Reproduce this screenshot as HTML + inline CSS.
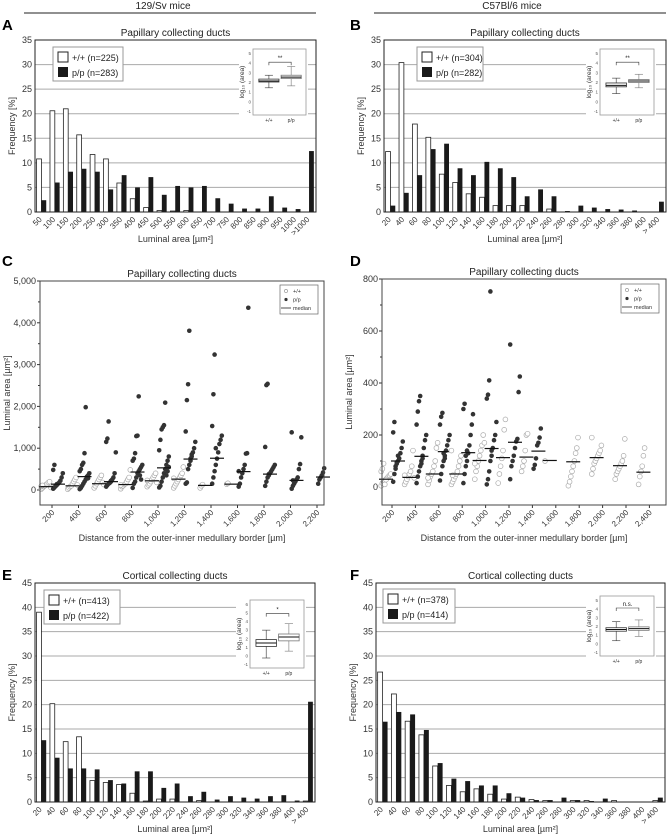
<!DOCTYPE html>
<html><head><meta charset="utf-8"><style>
html,body{margin:0;padding:0;background:#fff}
svg{display:block;font-family:"Liberation Sans",Arial,sans-serif}
</style></head><body>
<svg id="fig" width="668" height="834" viewBox="0 0 668 834" xmlns="http://www.w3.org/2000/svg">
<g>
<text x="163" y="9" font-size="10" text-anchor="middle" fill="#222">129/Sv mice</text>
<line x1="24" y1="13" x2="316" y2="13" stroke="#222" stroke-width="1"/></g>
<g>
<text x="512" y="9" font-size="10" text-anchor="middle" fill="#222">C57Bl/6 mice</text>
<line x1="374" y1="13" x2="666" y2="13" stroke="#222" stroke-width="1"/></g>
<text x="2" y="30" font-size="15" font-weight="bold">A</text>
<text x="350" y="30" font-size="15" font-weight="bold">B</text>
<text x="2" y="266" font-size="15" font-weight="bold">C</text>
<text x="350" y="266" font-size="15" font-weight="bold">D</text>
<text x="2" y="580" font-size="15" font-weight="bold">E</text>
<text x="350" y="580" font-size="15" font-weight="bold">F</text>
</svg>
<script>
// ---------- data ----------
const catsA = ["50","100","150","200","250","300","350","400","450","500","550","600","650","700","750","800","850","900","950","1000",">1000"];
const wtA = [10.8,20.6,21,15.7,11.7,10.8,5.9,2.7,0.9,0.3,0.2,0.3,0,0,0,0,0,0,0,0,0];
const ppA = [2.4,6,8.2,8.8,8.2,4.6,7.5,5,7.1,3.5,5.3,5,5.3,2.8,1.7,0.7,0.7,3.2,0.9,0.6,12.4];
const cats20 = ["20","40","60","80","100","120","140","160","180","200","220","240","260","280","300","320","340","360","380","400","> 400"];
const wtB = [12.3,30.4,17.9,15.2,7.7,6,3.7,3,1.3,1.3,1.3,0,0.6,0,0,0,0,0,0,0,0];
const ppB = [1.3,3.9,7.5,12.8,13.9,8.9,7.5,10.2,8.9,7.1,3.2,4.6,3.2,0.2,1.3,0.9,0.6,0.5,0.3,0,2.1];
const wtE = [39,20.2,12.4,13.4,4.4,4,3.6,1.8,0.2,0.6,0.6,0,0.3,0,0,0,0,0,0,0,0.2];
const ppE = [12.7,9.1,6.9,6.9,6.7,4.5,3.8,6.3,6.3,2.9,3.8,1.2,2.1,0.5,1.2,0.9,0.7,1.2,1.4,0.3,20.6];
const wtF = [26.7,22.2,16.6,13.8,7.4,3.4,2.1,2.7,1.6,0.6,1.0,0.5,0.3,0,0.3,0.3,0,0.3,0,0,0.3];
const ppF = [16.5,18.5,18.0,14.8,8.0,4.8,4.3,3.4,3.4,1.8,0.9,0.4,0.4,0.9,0.4,0.2,0.7,0,0,0.1,0.9];
// inset boxplots: [whiskerLow, q1, median, q3, whiskerHigh]
const boxA = [[1.4,2.0,2.1,2.3,2.7],[1.6,2.35,2.5,2.7,3.6]];
const boxB = [[0.8,1.5,1.65,1.9,2.4],[1.4,1.95,2.1,2.25,2.8]];
const boxE = [[-0.3,1.05,1.45,1.85,2.95],[0.5,1.7,2.15,2.5,3.7]];
const boxF = [[0.3,1.4,1.6,1.8,2.5],[0.8,1.5,1.7,1.9,2.7]];
// scatter C
const catsC = ["200","400","600","800","1,000","1,200","1,400","1,600","1,800","2,000","2,200"];
const wtC = [[20,50,80,100,130,150,180,200,60,90,110],[20,50,80,100,150,200,250,300,120],[50,100,150,200,250,300,350,180,130],[30,80,100,130,150,200,250,300,480,120],[80,120,150,200,250,300,350,400,180,230],[50,100,150,200,250,300,350,400,550,280],[50,100,130],[140,160],[],[],[]];
const ppC = [[30,60,100,120,150,180,220,300,400,480,600,90,140],[20,50,100,150,200,250,300,350,400,450,500,600,650,880,1980,320,280],[80,120,150,180,200,250,300,400,900,1150,1230,1640,170,220],[50,150,200,300,400,450,500,550,600,700,750,880,1290,1300,2240,350,250],[60,100,200,300,400,500,600,700,800,950,1200,1450,1500,1550,2090,350,450,550],[150,180,500,600,700,800,900,1000,1150,1400,2150,2530,3810,750,850],[150,300,450,600,750,900,1100,1200,1300,1530,2290,3240,1000],[80,150,300,400,500,600,870,880,4360,450],[100,200,300,350,400,450,500,550,600,1030,2510,2540,380],[30,100,150,200,250,300,500,620,1260,1380,230],[150,250,300,350,420,520]];
const medWtC = [80,100,150,130,220,260,110,140,null,null,null];
const medPpC = [140,320,200,430,530,740,760,440,380,230,310];
// scatter D
const catsD = ["200","400","600","800","1,000","1,200","1,400","1,600","1,800","2,000","2,200","2,400"];
const wtD = [[5,15,20,25,30,35,40,45,50,60,70,90,10,28],[10,20,30,40,50,60,80,140,35,45],[10,25,40,50,60,80,100,150,170,35],[10,20,30,40,50,60,80,100,120,140,45],[30,60,80,100,120,140,160,200,170,90],[15,50,80,110,140,220,260],[60,80,100,140,200,205],[100],[5,20,40,60,80,100,130,150,190],[50,70,90,100,110,120,130,140,160,190],[30,50,60,70,80,90,100,120,185],[10,40,60,80,120,150]];
const ppD = [[20,50,70,90,100,110,130,150,175,210,250,80,95,120],[15,40,60,80,100,120,150,180,200,240,290,330,350,90,110],[25,50,80,100,120,140,160,180,200,240,270,285,130,110],[15,50,80,100,130,160,200,240,280,300,320,120,140],[10,30,60,100,120,150,180,200,250,340,355,410,752,140],[30,80,100,120,150,175,185,365,425,548],[70,85,110,160,170,190,225],[],[],[],[],[]];
const medWtD = [30,37,50,50,102,113,115,102,97,113,82,57];
const medPpD = [100,118,136,132,148,172,138,null,null,null,null,null];

// ---------- helpers ----------
const NS="http://www.w3.org/2000/svg";
const svg=document.getElementById('fig');
function mk(tag,attrs,parent,text){const e=document.createElementNS(NS,tag);for(const k in attrs)e.setAttribute(k,attrs[k]);if(text!==undefined)e.textContent=text;(parent||svg).appendChild(e);return e;}

function barChart(o){
  const g=mk('g',{});
  
  
  const y=v=>o.y0-(v/o.ymax)*(o.y0-o.ytop);
  const n=o.cats.length, w=(o.x1-o.x0)/n;
  const t=mk('text',{x:(o.x0+o.x1)/2,y:o.ytop-4,'font-size':10,'text-anchor':'middle',fill:'#222'},g,o.title);
  
  
  for(let v=0;v<=o.ymax;v+=5){
    if(v>0&&v<o.ymax){const gl=mk('line',{x1:o.x0,x2:o.x1,y1:y(v),y2:y(v),stroke:'#aaa','stroke-width':1},g);
      
      }
    const tl=mk('text',{x:o.x0-3,y:y(v)+3,'font-size':9,'text-anchor':'end',fill:'#333'},g,String(v));
    
    
  }
  for(let i=0;i<n;i++){
    const cx=o.x0+i*w;
    const bw=w*0.36;
    const b1=mk('rect',{x:cx+w*0.12,y:y(o.wt[i]),width:bw,height:o.y0-y(o.wt[i]),fill:'#fff',stroke:'#222','stroke-width':0.8},g);
    
    
    const b2=mk('rect',{x:cx+w*0.12+bw,y:y(o.pp[i]),width:bw,height:o.y0-y(o.pp[i]),fill:'#1a1a1a'},g);
    
    
    const lx=cx+w*0.55, ly=o.y0+8;
    const xl=mk('text',{x:lx,y:ly,'font-size':8,'text-anchor':'end',fill:'#333',transform:`rotate(-45 ${lx} ${ly})`},g,o.cats[i]);
    
    
  }
  const fr=mk('rect',{x:o.x0,y:o.ytop,width:o.x1-o.x0,height:o.y0-o.ytop,fill:'none',stroke:'#222','stroke-width':1},g);
  
  
  const xt=mk('text',{x:(o.x0+o.x1)/2,y:o.y0+30,'font-size':9,'text-anchor':'middle',fill:'#333'},g,'Luminal area [µm²]');
  
  
  const yx=o.x0-20, yy=(o.ytop+o.y0)/2;
  const yt=mk('text',{x:yx,y:yy,'font-size':9,'text-anchor':'middle',fill:'#333',transform:`rotate(-90 ${yx} ${yy})`},g,'Frequency [%]');
  
  
  const L=o.leg;
  const lg=mk('g',{},g);
  
  
  mk('rect',{x:L[0],y:L[1],width:L[2],height:34,fill:'#fff',stroke:'#999'},lg);
  mk('rect',{x:L[0]+5,y:L[1]+5,width:10,height:10,fill:'#fff',stroke:'#222'},lg);
  mk('text',{x:L[0]+19,y:L[1]+14,'font-size':9,fill:'#222'},lg,o.n1);
  mk('rect',{x:L[0]+5,y:L[1]+20,width:10,height:10,fill:'#1a1a1a'},lg);
  mk('text',{x:L[0]+19,y:L[1]+29,'font-size':9,fill:'#222'},lg,o.n2);
  const I=o.inset;
  const ig=mk('g',{},g);
  
  
  mk('rect',{x:I[0]-14,y:I[1]-3,width:I[2]+16,height:I[3]+14,fill:'#fff'},ig);
  mk('rect',{x:I[0],y:I[1],width:I[2],height:I[3],fill:'#fff',stroke:'#999','stroke-width':0.8},ig);
  const lo=-1, hi=o.imax;
  const iy=v=>I[1]+I[3]-4-(v-lo)/(hi-lo)*(I[3]-8);
  for(let v=lo;v<=hi;v++){mk('text',{x:I[0]-2,y:iy(v)+2,'font-size':4.5,'text-anchor':'end',fill:'#555'},ig,String(v));}
  const ax=I[0]-9, ay=I[1]+I[3]/2;
  mk('text',{x:ax,y:ay,'font-size':6.5,'text-anchor':'middle',fill:'#333',transform:`rotate(-90 ${ax} ${ay})`},ig,'log₁₀ (area)');
  o.box.forEach((b,k)=>{
    const bx=I[0]+I[2]*(k===0?0.3:0.72);
    const hw=I[2]*0.19;
    const col=k===0?'#333':'#777';
    mk('line',{x1:bx,x2:bx,y1:iy(b[0]),y2:iy(b[4]),stroke:col,'stroke-width':0.6},ig);
    mk('line',{x1:bx-hw*0.4,x2:bx+hw*0.4,y1:iy(b[0]),y2:iy(b[0]),stroke:col,'stroke-width':0.6},ig);
    mk('line',{x1:bx-hw*0.4,x2:bx+hw*0.4,y1:iy(b[4]),y2:iy(b[4]),stroke:col,'stroke-width':0.6},ig);
    mk('rect',{x:bx-hw,y:iy(b[3]),width:2*hw,height:iy(b[1])-iy(b[3]),fill:'#fff',stroke:col,'stroke-width':0.8},ig);
    mk('line',{x1:bx-hw,x2:bx+hw,y1:iy(b[2]),y2:iy(b[2]),stroke:'#111','stroke-width':1},ig);
    mk('text',{x:bx,y:I[1]+I[3]+7,'font-size':5,'text-anchor':'middle',fill:'#333'},ig,k===0?'+/+':'p/p');
  });
  const x1b=I[0]+I[2]*0.3, x2b=I[0]+I[2]*0.72, sy=I[1]+I[3]*0.2;
  mk('path',{d:`M${x1b} ${sy+3} V${sy} H${x2b} V${sy+3}`,fill:'none',stroke:'#333','stroke-width':0.6},ig);
  mk('text',{x:(x1b+x2b)/2,y:sy-2,'font-size':6,'text-anchor':'middle',fill:'#222'},ig,o.sig);
}

barChart({name:'chart-a',title:'Papillary collecting ducts',x0:35,x1:316,ytop:40,y0:212,ymax:35,cats:catsA,wt:wtA,pp:ppA,leg:[53,47,70],n1:'+/+ (n=225)',n2:'p/p (n=283)',inset:[253,49,53,66],box:boxA,imax:5,sig:'**'});
barChart({name:'chart-b',title:'Papillary collecting ducts',x0:384,x1:666,ytop:40,y0:212,ymax:35,cats:cats20,wt:wtB,pp:ppB,leg:[417,47,66],n1:'+/+ (n=304)',n2:'p/p (n=282)',inset:[600,49,54,66],box:boxB,imax:5,sig:'**'});
barChart({name:'chart-e',title:'Cortical collecting ducts',x0:35,x1:315,ytop:583,y0:802,ymax:45,cats:cats20,wt:wtE,pp:ppE,leg:[44,590,76],n1:'+/+ (n=413)',n2:'p/p (n=422)',inset:[250,600,54,68],box:boxE,imax:6,sig:'*'});
barChart({name:'chart-f',title:'Cortical collecting ducts',x0:376,x1:665,ytop:583,y0:802,ymax:45,cats:cats20,wt:wtF,pp:ppF,leg:[383,589,72],n1:'+/+ (n=378)',n2:'p/p (n=414)',inset:[600,596,54,60],box:boxF,imax:5,sig:'n.s.'});

function scatter(o){
  const g=mk('g',{});
  
  
  const y=v=>o.y0-(v-0)/o.ymax*(o.y0-o.ytop);
  const t=mk('text',{x:(o.x0+o.x1)/2,y:o.ytop-4,'font-size':10,'text-anchor':'middle',fill:'#222'},g,o.title);
  
  
  for(let v=0;v<=o.ymax;v+=o.step){
    mk('line',{x1:o.x0-3,x2:o.x0,y1:y(v),y2:y(v),stroke:'#333'},g);
    if(v+o.step/2<=o.ymax)mk('line',{x1:o.x0-2,x2:o.x0,y1:y(v+o.step/2),y2:y(v+o.step/2),stroke:'#333'},g);
    const tl=mk('text',{x:o.x0-4,y:y(v)+3,'font-size':9,'text-anchor':'end',fill:'#333'},g,o.fmt(v));
    
    
  }
  const cx=i=>o.c0+i*o.sp;
  o.cats.forEach((c,i)=>{
    const lx=cx(i)+3, ly=o.yb+8;
    const xl=mk('text',{x:lx,y:ly,'font-size':8,'text-anchor':'end',fill:'#333',transform:`rotate(-45 ${lx} ${ly})`},g,c);
    
    
    mk('line',{x1:cx(i),x2:cx(i),y1:o.yb,y2:o.yb+3,stroke:'#333'},g);
    o.wt[i].forEach((v,j)=>{
      const p=mk('circle',{cx:cx(i)-6+((j*37)%9-4)*1.2,cy:y(v),r:2.4,fill:'#fff',stroke:'#aaa','stroke-width':0.7},g);
      
      
    });
    o.pp[i].forEach((v,j)=>{
      const p=mk('circle',{cx:cx(i)+6+((j*37)%9-4)*1.2,cy:y(v),r:2.3,fill:'#333'},g);
      
      
    });
    if(o.mw[i]!=null){const m=mk('line',{x1:cx(i)-13,x2:cx(i)+1,y1:y(o.mw[i]),y2:y(o.mw[i]),stroke:'#111','stroke-width':1.2},g);
      
      }
    if(o.mp[i]!=null){const m=mk('line',{x1:cx(i)-1,x2:cx(i)+13,y1:y(o.mp[i]),y2:y(o.mp[i]),stroke:'#111','stroke-width':1.2},g);
      
      }
  });
  const fr=mk('rect',{x:o.x0,y:o.ytop,width:o.x1-o.x0,height:o.yb-o.ytop,fill:'none',stroke:'#444','stroke-width':1},g);
  
  
  const xt=mk('text',{x:(o.x0+o.x1)/2,y:o.yb+36,'font-size':9,'text-anchor':'middle',fill:'#333'},g,'Distance from the outer-inner medullary border [µm]');
  
  
  const yx=o.x0-30, yy=(o.ytop+o.yb)/2;
  const yt=mk('text',{x:yx,y:yy,'font-size':9,'text-anchor':'middle',fill:'#333',transform:`rotate(-90 ${yx} ${yy})`},g,'Luminal area [µm²]');
  
  
  const L=o.leg;
  const lg=mk('g',{},g);
  
  
  mk('rect',{x:L[0],y:L[1],width:38,height:29,fill:'#fff',stroke:'#666','stroke-width':0.7},lg);
  mk('circle',{cx:L[0]+6,cy:L[1]+6,r:1.6,fill:'#fff',stroke:'#888','stroke-width':0.6},lg);
  mk('text',{x:L[0]+13,y:L[1]+8,'font-size':5.5,fill:'#333'},lg,'+/+');
  mk('circle',{cx:L[0]+6,cy:L[1]+14.5,r:1.6,fill:'#333'},lg);
  mk('text',{x:L[0]+13,y:L[1]+16.5,'font-size':5.5,fill:'#333'},lg,'p/p');
  mk('line',{x1:L[0]+1,x2:L[0]+11,y1:L[1]+23,y2:L[1]+23,stroke:'#222','stroke-width':0.8},lg);
  mk('text',{x:L[0]+13,y:L[1]+25,'font-size':5.5,fill:'#333'},lg,'median');
}
const fmtK=v=>v>=1000?(v/1000)+',000':String(v);
scatter({name:'chart-c',title:'Papillary collecting ducts',x0:40,x1:324,ytop:281,y0:490,yb:505,ymax:5000,step:1000,fmt:fmtK,cats:catsC,c0:52,sp:26.5,wt:wtC,pp:ppC,mw:medWtC,mp:medPpC,leg:[280,285]});
scatter({name:'chart-d',title:'Papillary collecting ducts',x0:382,x1:666,ytop:279,y0:487,yb:505,ymax:800,step:200,fmt:String,cats:catsD,c0:392,sp:23.4,wt:wtD,pp:ppD,mw:medWtD,mp:medPpD,leg:[621,284]});
</script>
</body></html>
